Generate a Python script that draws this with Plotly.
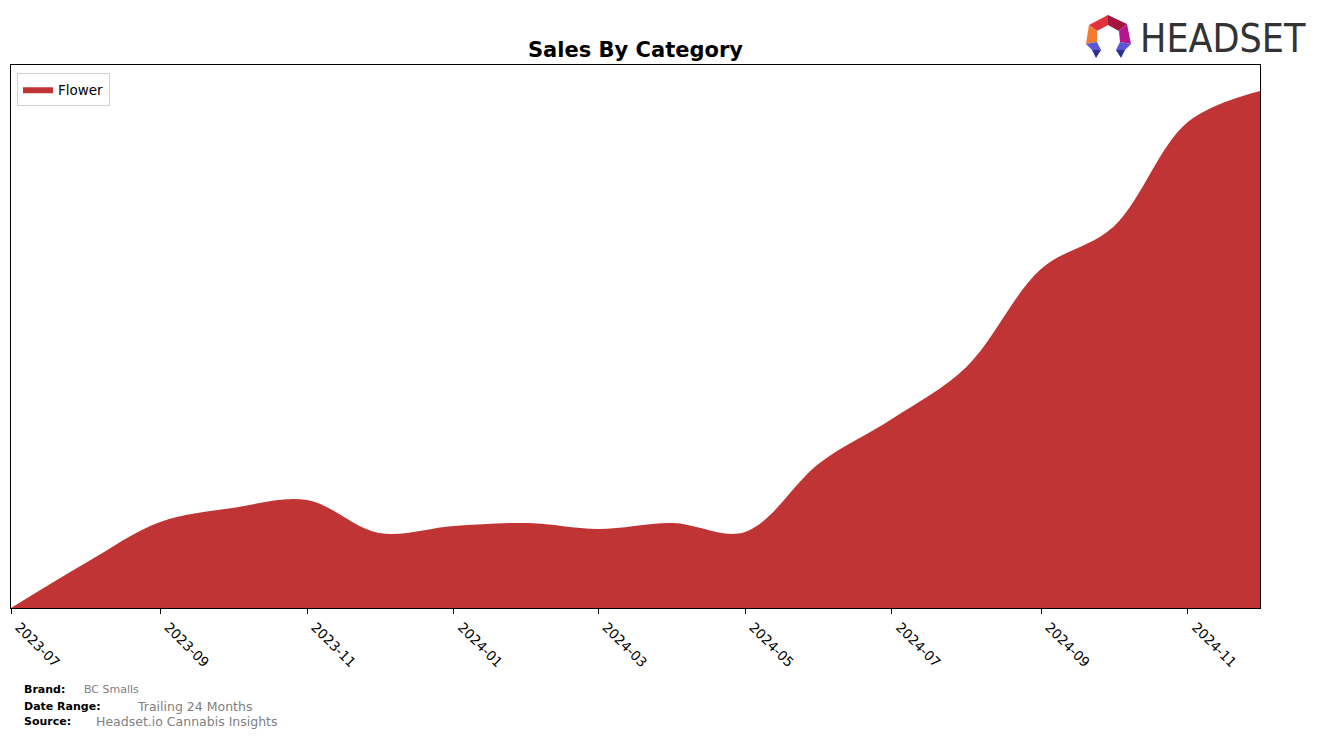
import plotly.graph_objects as go

# ---- data ----
months = ["2023-07-01", "2023-08-01", "2023-09-01", "2023-10-01", "2023-11-01", "2023-12-01",
          "2024-01-01", "2024-02-01", "2024-03-01", "2024-04-01", "2024-05-01", "2024-06-01",
          "2024-07-01", "2024-08-01", "2024-09-01", "2024-10-01", "2024-11-01", "2024-12-01"]
flower_sales = [0, 45000, 86000, 100000, 108000, 75000,
                82000, 85000, 79000, 85000, 76000, 145000,
                189000, 241000, 339000, 381000, 486000, 517000]
category = "Flower"
title_text = "Sales By Category"
brand = "BC Smalls"
date_range = "Trailing 24 Months"
source = "Headset.io Cannabis Insights"

W, H = 1324, 738
L, R, T, B = 11, 1260, 65, 608


def px(x):
    return (x - L) / (R - L)


def py(y):
    return (B - y) / (B - T)


fig = go.Figure()
fig.add_trace(go.Scatter(
    x=months, y=flower_sales, name=category, mode="lines",
    line=dict(width=0, shape="spline", smoothing=1.0, color="#c03435"),
    fill="tozeroy", fillcolor="#c03435",
))

fig.update_layout(
    width=W, height=H,
    margin=dict(l=L, r=W - R, t=T, b=H - B, pad=0, autoexpand=False),
    paper_bgcolor="white", plot_bgcolor="white",
    font=dict(family="DejaVu Sans", color="black"),
    showlegend=True,
    legend=dict(x=px(17), y=py(73), xanchor="left", yanchor="top",
                bgcolor="white", bordercolor="#d0d0d0", borderwidth=1,
                font=dict(size=13.5, family="DejaVu Sans"), itemwidth=30,
                tracegroupgap=0),
    xaxis=dict(range=["2023-07-01", "2024-12-01"], tick0="2023-07-01", dtick="M2",
               tickformat="%Y-%m", tickangle=45, ticks="outside", ticklen=5,
               ticklabelshift=8, ticklabelstandoff=0,
               tickcolor="black", showgrid=False, zeroline=False, automargin=False,
               showline=True, linecolor="black", linewidth=1, mirror=True,
               tickfont=dict(size=13.5, family="DejaVu Sans")),
    yaxis=dict(range=[0, 543000], showticklabels=False, ticks="", showgrid=False,
               zeroline=False, automargin=False,
               showline=True, linecolor="black", linewidth=1, mirror=True),
)

ann = []
ann.append(dict(text="<b>" + title_text + "</b>", x=px(635), y=py(50), xref="paper", yref="paper",
                xanchor="center", yanchor="middle", showarrow=False,
                font=dict(size=21, family="DejaVu Sans", color="black")))
footer = [("Brand:", 689, brand, 82, 11),
          ("Date Range:", 706, date_range, 135, 12.5),
          ("Source:", 721, source, 94, 12.5)]
for lab, yy, val, vx, vs in footer:
    ann.append(dict(text="<b>" + lab + "</b>", x=px(22), y=py(yy), xref="paper", yref="paper",
                    xanchor="left", yanchor="middle", showarrow=False,
                    font=dict(size=11, family="DejaVu Sans", color="black")))
    ann.append(dict(text=val, x=px(vx), y=py(yy), xref="paper", yref="paper",
                    xanchor="left", yanchor="middle", showarrow=False,
                    font=dict(size=vs, family="DejaVu Sans", color="#808080")))
ann.append(dict(text="HEADSET", x=px(1308), y=py(39), xref="paper", yref="paper",
                xanchor="right", yanchor="middle", showarrow=False,
                font=dict(size=39, family="DejaVu Sans Condensed, Roboto, sans-serif",
                          color="#333333")))
fig.update_layout(annotations=ann)

# logo icon pieces
pieces = [
    ([(1108, 15), (1108, 25), (1097, 31), (1089, 25)], "#e2323e"),
    ([(1108, 15), (1127, 24), (1119, 31), (1108, 25)], "#a3173f"),
    ([(1089, 25), (1097, 31), (1097, 42), (1086, 44)], "#f47a2c"),
    ([(1127, 24), (1131, 44), (1120, 42), (1119, 31)], "#b3168e"),
    ([(1086, 44), (1097, 42), (1101, 50), (1092, 50)], "#5a58d4"),
    ([(1092, 50), (1101, 50), (1096, 58)], "#2d2d96"),
    ([(1131, 44), (1120, 42), (1116, 50), (1125, 50)], "#5a58d4"),
    ([(1116, 50), (1125, 50), (1121, 58)], "#2d2d96"),
]
shapes = []
for pts, col in pieces:
    path = "M " + " L ".join(f"{px(a):.5f},{py(b):.5f}" for a, b in pts) + " Z"
    shapes.append(dict(type="path", path=path, xref="paper", yref="paper",
                       fillcolor=col, line=dict(width=0)))
fig.update_layout(shapes=shapes)

fig.write_html("out.html")
